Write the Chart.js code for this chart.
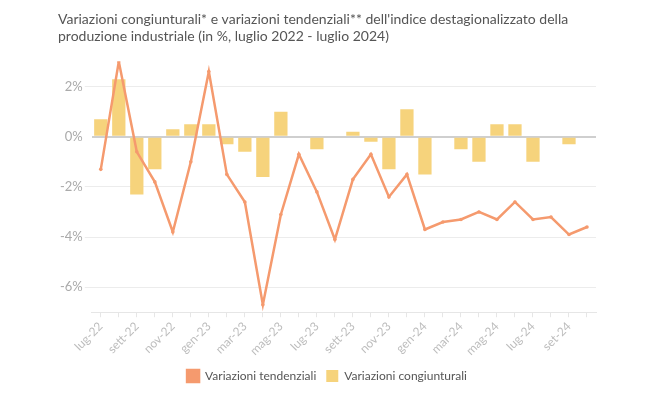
<!DOCTYPE html>
<html><head><meta charset="utf-8">
<script src="https://cdn.jsdelivr.net/npm/chart.js@4"></script>
<style>html,body{margin:0;padding:0;background:#fff}#wrap{width:650px;height:396px;position:relative}</style>
</head><body><div id="wrap"><canvas id="c" width="650" height="396"></canvas></div>
<script>
const categories = ['lug-22','ago-22','sett-22','ott-22','nov-22','dic-22','gen-23','feb-23','mar-23','apr-23','mag-23','giu-23','lug-23','ago-23','sett-23','ott-23','nov-23','dic-23','gen-24','feb-24','mar-24','apr-24','mag-24','giu-24','lug-24','ago-24','set-24','ott-24'];
const tendenziali = [-1.3,3.0,-0.6,-1.8,-3.8,-1.0,2.6,-1.5,-2.6,-6.7,-3.1,-0.7,-2.2,-4.1,-1.7,-0.7,-2.4,-1.5,-3.7,-3.4,-3.3,-3.0,-3.3,-2.6,-3.3,-3.2,-3.9,-3.6];
const congiunturali = [0.7,2.3,-2.3,-1.3,0.3,0.5,0.5,-0.3,-0.6,-1.6,1.0,0,-0.5,0,0.2,-0.2,-1.3,1.1,-1.5,0,-0.5,-1.0,0.5,0.5,-1.0,0,-0.3,0];
const yTicks = [-6,-4,-2,0,2];
const titleLines = ["Variazioni congiunturali* e variazioni tendenziali** dell'indice destagionalizzato della","produzione industriale (in %, luglio 2022 - luglio 2024)"];
const FONT = 'Lato';
new Chart(document.getElementById('c'), {
  data: {
    labels: categories,
    datasets: [
      {type:'line', label:'Variazioni tendenziali', data:tendenziali, borderColor:'#f59a6e', backgroundColor:'#f59a6e', borderWidth:2.5, pointRadius:1.8, pointBackgroundColor:'#f59a6e', pointBorderWidth:0, tension:0, order:0},
      {type:'bar', label:'Variazioni congiunturali', data:congiunturali, backgroundColor:'#f6d37c', borderWidth:0, categoryPercentage:0.9, barPercentage:0.82, order:1}
    ]
  },
  options: {
    responsive:false, animation:false,
    layout:{padding:{left:58,right:54,top:0,bottom:4}},
    plugins:{
      title:{display:true, text:titleLines, align:'start', color:'#555', font:{family:FONT,size:14,weight:'normal'}, lineHeight:1.35, padding:{top:11,bottom:17}},
      legend:{position:'bottom', labels:{color:'#555', font:{family:FONT,size:12}, boxWidth:12, boxHeight:12, padding:10}},
      tooltip:{enabled:false}
    },
    scales:{
      x:{offset:true, grid:{offset:false, drawOnChartArea:false, color:'#e6e6e6', tickLength:5}, border:{color:'#e6e6e6'},
         ticks:{autoSkip:false, maxRotation:45, minRotation:45, color:'#bdbdbd', padding:2, font:{family:FONT,size:12}, callback:function(v,i){return i%2===0?categories[i]:'';}}},
      y:{min:-7, max:3,
         afterBuildTicks:function(s){s.ticks = yTicks.map(v=>({value:v}));},
         grid:{color:function(ctx){return ctx.tick && ctx.tick.value===0 ? '#cfcfcf':'#ececec';}, lineWidth:function(ctx){return ctx.tick && ctx.tick.value===0 ? 2:1;}, drawTicks:true, tickLength:7, tickColor:function(ctx){return ctx.tick && ctx.tick.value===0 ? 'rgba(0,0,0,0)':'#ececec';}},
         border:{display:false},
         ticks:{color:'#aaa', padding:2, font:{family:FONT,size:13}, callback:function(v){return v+'%';}}}
    }
  }
});
</script></body></html>
